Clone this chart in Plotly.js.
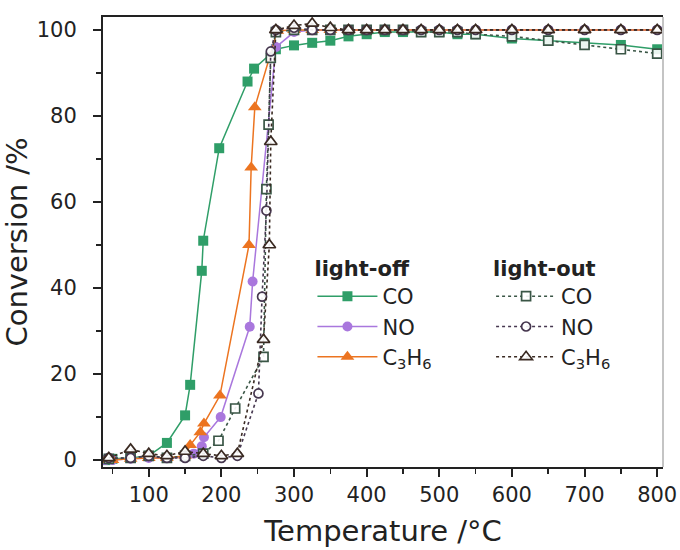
<!DOCTYPE html>
<html>
<head>
<meta charset="utf-8">
<script src="https://cdn.plot.ly/plotly-3.0.1.min.js"></script>
<style>html,body{margin:0;padding:0;background:#fff;}#chart{width:680px;height:550px;}</style>
</head>
<body>
<div id="chart"></div>
<script>
// light-off (heating) data
var offCO_T = [40,50,75,100,125,150,157,173,175,197,236,245,275,300,325,350,375,400,425,450,475,500,525,550,600,650,700,750,800];
var offCO   = [0,0.3,0.5,1,4,10.4,17.5,44,51,72.5,88,91,95.5,96.4,97,97.5,98.5,99,99.5,99.5,99.5,99.5,99,99,98,97.5,97,96.5,95.5];
var offNO_T = [40,50,75,100,125,150,162,173,176,199,239,243,275,300,325,350,375,400,425,450,475,500,525,550,600,650,700,750,800];
var offNO   = [0,0,0.3,0.5,0.5,0.8,1.5,3.2,5.3,10,31,41.5,96,99.5,100,100,100,100,100,100,100,100,100,100,100,100,100,100,100];
var offC3_T = [40,50,75,100,125,150,157,171,176,198,238,241,246,277,300,325,350,375,400,425,450,475,500,525,550,600,650,700,750,800];
var offC3   = [0,0,0.3,0.5,0.5,1,3.5,6.5,8.5,15,50,68,82,99.8,100,100,100,100,100,100,100,100,100,100,100,100,100,100,100,100];
// light-out (cooling) data
var outCO_T = [45,75,100,125,150,175,196,219,258,262,265,268,275,300,325,350,375,400,425,450,475,500,525,550,600,650,700,750,800];
var outCO   = [0.3,0.5,1,0.5,1,1.5,4.5,12,24,63,78,93.5,99.5,100,100,100,100,100,100,100,99.5,99.5,99.5,99,98.5,97.5,96.5,95.5,94.5];
var outNO_T = [45,75,100,125,150,175,200,222,251,256,262,268,275,300,325,350,375,400,425,450,475,500,525,550,600,650,700,750,800];
var outNO   = [0.5,0.5,1,0.5,0.5,1,0.5,1,15.5,38,58,95,100,100.5,100,100,100,100,100,100,100,100,100,100,100,100,100,100,100];
var outC3_T = [45,75,100,125,150,175,200,222,258,266,268,275,300,325,350,375,400,425,450,475,500,525,550,600,650,700,750,800];
var outC3   = [0.5,2.5,1.5,1,2,1.5,1,1.5,28,50,74,100,101,101.5,100.5,100,100,100,100,100,100,100,100,100,100,100,100,100];

var names = ['CO','NO','C<sub>3</sub>H<sub>6</sub>'];
var tickVals = [100,200,300,400,500,600,700,800];
var yTickVals = [0,20,40,60,80,100];

var FONT = 'DejaVu Sans, Arial, sans-serif';
var cGreen = '#2f9e68', cPurple = '#a977dd', cOrange = '#ec7420';

function off(x, y, name, color, symbol, size) {
  return {x: x, y: y, name: name, type: 'scatter', mode: 'lines+markers', legend: 'legend',
    line: {color: color, width: 1.5},
    marker: {color: color, symbol: symbol, size: size, line: {width: 0}}};
}
function out(x, y, name, color, symbol, size) {
  return {x: x, y: y, name: name, type: 'scatter', mode: 'lines+markers', legend: 'legend2',
    line: {color: color, width: 1.6, dash: '3px,3px'},
    marker: {color: 'rgba(255,255,255,0.9)', symbol: symbol, size: size, line: {color: color, width: 1.7}}};
}

var data = [
  off(offCO_T, offCO, names[0], cGreen, 'square', 10),
  off(offNO_T, offNO, names[1], cPurple, 'circle', 10),
  off(offC3_T, offC3, names[2], cOrange, 'triangle-up', 12),
  out(outCO_T, outCO, names[0], '#3a5646', 'square', 9),
  out(outNO_T, outNO, names[1], '#46374f', 'circle', 9),
  out(outC3_T, outC3, names[2], '#3a2a22', 'triangle-up', 11)
];

var layout = {
  width: 680, height: 550,
  margin: {l: 103, r: 17, t: 17, b: 83},
  paper_bgcolor: '#fff', plot_bgcolor: '#fff',
  font: {family: FONT, color: '#222', size: 21},
  showlegend: true,
  xaxis: {
    range: [37, 808], tickvals: tickVals, ticks: 'outside', ticklen: 8, tickwidth: 2, tickcolor: '#222',
    showline: true, linecolor: '#222', linewidth: 2, mirror: true, showgrid: false, zeroline: false,
    tickfont: {family: FONT, size: 21, color: '#222'},
    minor: {dtick: 50, tick0: 0, ticks: 'outside', ticklen: 5, tickwidth: 1.5, tickcolor: '#222', showgrid: false},
    title: {text: 'Temperature /°C', font: {family: FONT, size: 29, color: '#222'}, standoff: 14}
  },
  yaxis: {
    range: [-1.6, 103], tickvals: yTickVals, ticks: 'outside', ticklen: 8, tickwidth: 2, tickcolor: '#222',
    showline: true, linecolor: '#222', linewidth: 2, mirror: false, showgrid: false, zeroline: false,
    ticklabelstandoff: 12,
    tickfont: {family: FONT, size: 21, color: '#222'},
    minor: {dtick: 10, tick0: 0, ticks: 'outside', ticklen: 5, tickwidth: 1.5, tickcolor: '#222', showgrid: false},
    title: {text: 'Conversion /%', font: {family: FONT, size: 29, color: '#222'}, standoff: 12}
  },
  legend: {
    x: 0.374, y: 0.485, xanchor: 'left', yanchor: 'top', bgcolor: 'rgba(0,0,0,0)',
    font: {family: FONT, size: 21, color: '#222'}, itemwidth: 60, tracegroupgap: 0,
    title: {text: '<b>light-off</b>', font: {family: FONT, size: 21, color: '#222'}}
  },
  legend2: {
    x: 0.693, y: 0.485, xanchor: 'left', yanchor: 'top', bgcolor: 'rgba(0,0,0,0)',
    font: {family: FONT, size: 21, color: '#222'}, itemwidth: 60, tracegroupgap: 0,
    title: {text: '<b>light-out</b>', font: {family: FONT, size: 21, color: '#222'}}
  },
  shapes: [
    {type: 'line', xref: 'paper', yref: 'paper', x0: 1, x1: 1, y0: 0, y1: 1, line: {color: '#c4c4c4', width: 2}}
  ]
};

Plotly.newPlot('chart', data, layout, {displayModeBar: false, staticPlot: true});
</script>
</body>
</html>
